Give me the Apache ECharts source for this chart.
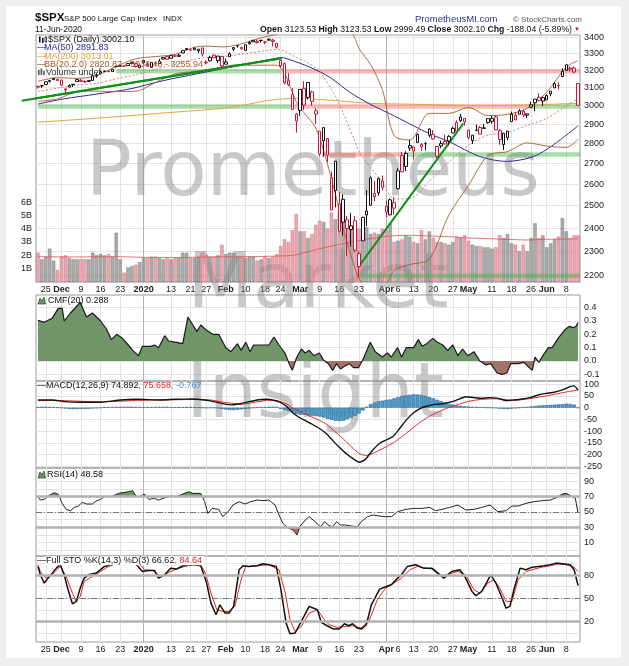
<!DOCTYPE html>
<html>
<head>
<meta charset="utf-8">
<title>$SPX daily</title>
<script src="https://cdn.jsdelivr.net/npm/echarts@6.0.0/dist/echarts.min.js"></script>
<style>
  html, body { margin: 0; padding: 0; background: #efefef; }
  #chart { width: 629px; height: 666px; }
</style>
</head>
<body>
<div id="chart"></div>
<script>
/* data - Starts */
var dates = [
  '2019-11-21','2019-11-22','2019-11-25','2019-11-26','2019-11-27','2019-11-29',
  '2019-12-02','2019-12-03','2019-12-04','2019-12-05','2019-12-06','2019-12-09','2019-12-10','2019-12-11','2019-12-12','2019-12-13',
  '2019-12-16','2019-12-17','2019-12-18','2019-12-19','2019-12-20','2019-12-23','2019-12-24','2019-12-26','2019-12-27','2019-12-30','2019-12-31',
  '2020-01-02','2020-01-03','2020-01-06','2020-01-07','2020-01-08','2020-01-09','2020-01-10','2020-01-13','2020-01-14','2020-01-15','2020-01-16',
  '2020-01-17','2020-01-21','2020-01-22','2020-01-23','2020-01-24','2020-01-27','2020-01-28','2020-01-29','2020-01-30','2020-01-31',
  '2020-02-03','2020-02-04','2020-02-05','2020-02-06','2020-02-07','2020-02-10','2020-02-11','2020-02-12','2020-02-13','2020-02-14',
  '2020-02-18','2020-02-19','2020-02-20','2020-02-21','2020-02-24','2020-02-25','2020-02-26','2020-02-27','2020-02-28',
  '2020-03-02','2020-03-03','2020-03-04','2020-03-05','2020-03-06','2020-03-09','2020-03-10','2020-03-11','2020-03-12','2020-03-13',
  '2020-03-16','2020-03-17','2020-03-18','2020-03-19','2020-03-20','2020-03-23','2020-03-24','2020-03-25','2020-03-26','2020-03-27','2020-03-30','2020-03-31',
  '2020-04-01','2020-04-02','2020-04-03','2020-04-06','2020-04-07','2020-04-08','2020-04-09','2020-04-13','2020-04-14','2020-04-15','2020-04-16','2020-04-17',
  '2020-04-20','2020-04-21','2020-04-22','2020-04-23','2020-04-24','2020-04-27','2020-04-28','2020-04-29','2020-04-30',
  '2020-05-01','2020-05-04','2020-05-05','2020-05-06','2020-05-07','2020-05-08','2020-05-11','2020-05-12','2020-05-13','2020-05-14','2020-05-15',
  '2020-05-18','2020-05-19','2020-05-20','2020-05-21','2020-05-22','2020-05-26','2020-05-27','2020-05-28','2020-05-29',
  '2020-06-01','2020-06-02','2020-06-03','2020-06-04','2020-06-05','2020-06-08','2020-06-09','2020-06-10','2020-06-11'
];
var opens = [
  3108.49,3111.41,3117.44,3134.85,3145.49,3147.18,3143.85,3087.41,3103.50,3119.21,
  3134.62,3141.86,3135.36,3135.75,3141.23,3166.65,3183.63,3195.40,3195.21,3192.32,
  3223.33,3226.05,3225.45,3227.20,3247.23,3240.09,3215.18,3244.67,3226.36,3217.55,
  3241.86,3238.59,3266.03,3280.79,3271.13,3285.35,3282.27,3302.97,3323.66,3321.03,
  3330.02,3315.77,3333.10,3247.16,3255.35,3289.46,3256.45,3282.33,3235.66,3280.61,
  3324.91,3344.92,3335.54,3318.28,3365.87,3370.50,3365.90,3378.08,3369.04,3380.39,
  3380.45,3360.50,3257.61,3238.94,3139.90,3062.54,2916.90,2974.28,3096.46,3045.75,
  3075.70,2954.20,2863.89,2813.48,2825.60,2630.86,2569.99,2508.59,2425.66,2436.50,
  2393.48,2431.94,2290.71,2344.44,2457.77,2501.29,2555.87,2558.98,2614.69,2498.08,
  2458.54,2514.92,2578.28,2738.65,2685.00,2776.99,2782.46,2805.10,2795.64,2799.34,
  2842.43,2845.62,2784.81,2787.89,2810.42,2812.64,2854.65,2909.96,2918.46,2930.91,
  2869.09,2815.01,2868.88,2883.14,2878.26,2908.83,2915.46,2939.50,2865.86,2794.54,
  2829.95,2913.86,2948.59,2953.63,2969.95,2948.05,3004.08,3015.65,3046.61,3025.17,
  3031.15,3064.78,3098.90,3111.56,3163.84,3199.92,3213.32,3213.42,3123.53
];
var highs = [
  3110.11,3112.87,3133.83,3142.69,3154.26,3150.30,3144.31,3094.97,3119.38,3119.45,
  3150.60,3148.87,3142.12,3143.98,3176.28,3182.68,3197.71,3198.22,3198.48,3205.48,
  3225.65,3227.78,3226.43,3240.08,3247.93,3240.92,3231.72,3258.14,3246.15,3246.84,
  3244.91,3267.07,3275.58,3282.99,3288.13,3294.25,3298.66,3317.11,3329.88,3329.79,
  3337.77,3326.88,3333.18,3258.85,3285.78,3293.47,3285.91,3282.33,3268.44,3306.92,
  3337.58,3347.96,3341.42,3352.26,3375.63,3381.47,3385.09,3380.69,3375.01,3393.52,
  3389.15,3360.76,3259.81,3246.99,3182.51,3097.07,2959.72,3090.96,3136.72,3130.97,
  3083.04,2985.93,2863.89,2882.59,2825.60,2660.95,2711.33,2562.98,2553.93,2453.57,
  2466.97,2453.01,2300.73,2449.71,2571.42,2637.01,2615.91,2631.80,2641.39,2522.75,
  2533.22,2538.18,2676.85,2756.89,2760.75,2818.57,2782.46,2851.85,2801.88,2806.51,
  2879.22,2868.98,2785.54,2815.10,2844.90,2842.71,2887.72,2921.15,2954.86,2930.91,
  2869.09,2844.24,2898.23,2891.11,2901.92,2932.16,2944.25,2945.82,2874.14,2852.80,
  2865.01,2968.09,2964.21,2980.29,2978.50,2956.76,3021.72,3036.25,3068.67,3049.17,
  3062.18,3081.07,3130.94,3128.91,3211.72,3233.13,3222.71,3223.27,3123.53
];
var lows = [
  3094.55,3099.26,3117.44,3131.00,3143.41,3139.34,3110.78,3070.33,3102.53,3103.76,
  3134.62,3135.46,3126.09,3133.21,3138.47,3156.51,3183.63,3191.03,3191.14,3192.32,
  3216.03,3222.30,3220.51,3227.20,3234.37,3216.57,3212.03,3235.53,3222.34,3214.64,
  3232.43,3236.67,3263.67,3260.86,3268.43,3277.19,3280.69,3302.82,3318.86,3316.61,
  3320.04,3301.87,3281.53,3234.50,3253.22,3271.89,3242.80,3214.68,3235.66,3280.61,
  3313.75,3334.39,3322.12,3317.77,3355.61,3369.72,3360.52,3366.15,3355.61,3378.83,
  3341.02,3328.45,3214.65,3118.77,3108.99,2977.39,2855.84,2945.19,2976.63,3034.38,
  2999.83,2901.54,2734.43,2734.00,2707.22,2478.86,2492.37,2380.94,2367.04,2280.52,
  2319.78,2295.56,2191.86,2344.44,2407.53,2500.72,2520.02,2545.28,2571.15,2447.49,
  2455.79,2459.96,2574.57,2657.67,2663.30,2762.36,2721.17,2805.10,2761.54,2764.32,
  2830.88,2820.43,2727.10,2775.95,2794.26,2791.76,2852.89,2860.71,2912.16,2892.47,
  2821.61,2797.85,2863.55,2847.65,2876.48,2902.88,2903.44,2869.59,2793.15,2766.64,
  2816.78,2913.86,2922.35,2953.63,2938.57,2933.59,2988.17,2969.75,3023.40,2998.61,
  3031.15,3051.64,3098.90,3090.41,3163.84,3196.00,3193.11,3181.49,2999.49
];
var closes = [
  3103.54,3110.29,3133.64,3140.52,3153.63,3140.98,3113.87,3093.20,3112.76,3117.43,
  3145.91,3135.96,3132.52,3141.63,3168.57,3168.80,3191.45,3192.52,3191.14,3205.37,
  3221.22,3224.01,3223.38,3239.91,3240.02,3221.29,3230.78,3257.85,3234.85,3246.28,
  3237.18,3253.05,3274.70,3265.35,3288.13,3283.15,3289.29,3316.81,3329.62,3320.79,
  3321.75,3325.54,3295.47,3243.63,3276.24,3273.40,3283.66,3225.52,3248.92,3297.59,
  3334.69,3345.78,3327.71,3352.09,3357.75,3379.45,3373.94,3380.16,3370.29,3386.15,
  3373.23,3337.75,3225.89,3128.21,3116.39,2978.76,2954.22,3090.23,3003.37,3130.12,
  3023.94,2972.37,2746.56,2882.23,2741.38,2480.64,2711.02,2386.13,2529.19,2398.10,
  2409.39,2304.92,2237.40,2447.33,2475.56,2630.07,2541.47,2626.65,2584.59,2470.50,
  2526.90,2488.65,2663.68,2659.41,2749.98,2789.82,2761.63,2846.06,2783.36,2799.55,
  2874.56,2823.16,2736.56,2799.31,2797.80,2836.74,2878.48,2863.39,2939.51,2912.43,
  2830.71,2842.74,2868.44,2848.42,2881.19,2929.80,2930.32,2870.12,2820.00,2852.50,
  2863.70,2953.91,2922.94,2971.61,2948.51,2955.45,2991.77,3036.13,3029.73,3044.31,
  3055.73,3080.82,3122.87,3112.35,3193.93,3232.39,3207.18,3190.14,3002.10
];
var prevClose = 3108.46;

// volume in billions
var volumes = [
  2.2,1.7,1.9,2.5,1.6,0.9,1.9,2.0,1.8,1.7,
  1.7,1.7,1.7,1.7,2.2,2.0,2.1,2.0,2.1,1.9,
  3.7,1.7,0.7,1.1,1.2,1.3,1.5,1.8,1.8,1.9,
  1.9,1.8,1.7,1.8,1.7,1.8,1.8,2.2,2.2,1.8,
  1.8,1.9,2.2,2.0,1.9,1.9,2.0,2.8,2.1,2.2,
  2.2,1.9,1.9,1.8,1.9,1.9,1.6,1.7,1.9,1.8,
  1.9,2.1,2.7,3.2,3.0,3.9,5.1,3.8,3.8,3.3,
  3.6,4.3,4.6,4.5,4.0,5.2,4.7,5.2,4.5,4.4,
  4.2,4.2,4.0,3.9,4.1,3.6,3.7,3.6,4.0,3.9,
  4.4,3.0,3.1,3.2,3.5,3.4,3.0,2.9,3.9,3.2,
  3.8,3.3,3.0,3.0,2.9,2.8,3.0,3.4,3.3,3.5,
  3.1,2.8,2.7,2.7,2.6,2.6,2.5,2.6,3.5,3.3,
  3.6,2.9,2.8,2.3,2.8,2.3,3.3,4.4,3.3,3.5,
  2.6,2.9,3.2,3.4,4.8,3.8,3.3,3.5,3.5
];
var volumeMA = [[0,1.9],[10,1.88],[20,1.9],[27,1.85],[35,1.84],[45,1.88],[55,1.91],[62,1.95],[65,2.0],[68,2.2],[72,2.5],[76,2.75],[80,3.0],[85,3.25],[90,3.45],[95,3.5],[100,3.45],[105,3.4],[110,3.3],[115,3.25],[120,3.2],[125,3.15],[130,3.2],[135,3.22],[138,3.24]];

var ma50 = [[0,3009],[6.5,3037],[15,3064],[23.5,3093],[32,3140],[40.6,3179],[49,3218],[57.6,3256],[60.5,3270],[62.3,3275],[64.4,3262],[69.5,3218],[74.6,3159],[79.7,3074],[84.8,3009],[89.9,2956],[95,2902],[100.2,2849],[105.3,2807],[112.9,2734],[119.8,2710],[126.6,2734],[131.7,2793],[138,2891.83]];
var ma200 = [[0,2911],[15,2932],[32,2960],[49,2990],[59.3,3030],[66.1,3040],[76.3,3027],[84.8,3013],[93.3,3009],[105.3,3003],[115,3001],[125,3004],[132,3008],[138,3013.01]];
var bbUpper = [[0,3136],[5,3157],[10,3153],[15,3169],[20,3223],[25,3268],[30,3281],[35,3294],[40,3337],[44,3344],[47,3339],[51,3352],[55,3381],[58,3401],[61,3417],[63,3444],[66,3529],[68,3550],[71,3546],[73,3557],[76,3550],[78,3522],[81,3391],[82,3331],[85,3233],[88,3089],[91,2841],[95,2818],[100,2958],[105,2958],[110,2990],[115,2946],[120,2953],[125,2985],[130,3075],[135,3219],[138,3255.94]];
var bbMiddle = [[0,3080],[5,3097],[10,3115],[15,3125],[20,3151],[25,3174],[30,3205],[35,3236],[40,3265],[44,3276],[47,3279],[51,3292],[55,3305],[58,3316],[61,3323],[63,3314],[66,3275],[68,3256],[71,3213],[73,3161],[76,3052],[78,2960],[81,2811],[82,2761],[85,2678],[88,2613],[91,2531],[95,2532],[100,2613],[105,2708],[110,2792],[115,2843],[120,2856],[125,2894],[130,2931],[135,3000],[138,3038.40]];
var bbLower = [[0,3024],[5,3037],[10,3077],[15,3081],[20,3078],[25,3080],[30,3129],[35,3178],[40,3193],[44,3207],[47,3219],[51,3232],[55,3229],[58,3230],[61,3229],[63,3184],[66,3021],[68,2961],[71,2880],[73,2764],[76,2554],[78,2398],[81,2230],[82,2191],[85,2122],[88,2137],[91,2221],[95,2245],[100,2268],[105,2458],[110,2594],[115,2739],[120,2759],[125,2803],[130,2787],[135,2780],[138,2820.87]];

// support / resistance zones: [from day, to day, price]
var greenZones = [[20,62.3,3195],[0,65,2996],[125.5,138.5,2996],[94,138.5,2744],[81.8,138.5,2200]];
var redZones = [[62.3,138.5,3195],[65.5,125.5,2996],[72.5,94,2744]];
var trendLines = [[[-4.15,3027],[62.3,3271]], [[81.85,2235],[108.7,2905]]];

var cmf = [[0,0.305],[1.6,0.29],[3.6,0.32],[5.2,0.395],[6.2,0.395],[6.7,0.30],[8.3,0.36],[10.8,0.44],[12.4,0.33],[13.9,0.36],[16,0.3],[17.5,0.24],[18.8,0.16],[20.1,0.2],[21.6,0.17],[23.1,0.12],[24.2,0.08],[25.7,0.04],[26.7,0.11],[28.8,0.11],[29.8,0.12],[30.8,0.1],[32.4,0.19],[33.4,0.15],[35.4,0.14],[37,0.13],[38.3,0.33],[39.6,0.27],[40.6,0.22],[41.6,0.27],[43.1,0.23],[44.7,0.2],[46.2,0.2],[48,0.1],[49.3,0.07],[51,0.13],[51.9,0.08],[53.1,0.14],[54.2,0.07],[55.1,0.12],[57.5,0.12],[59,0.12],[60.3,0.18],[61.6,0.12],[63.1,0.06],[64.2,-0.02],[65,-0.07],[66,0.02],[67.3,0.09],[68.3,0.06],[69.3,0.08],[70.5,0.04],[71.9,0.06],[72.9,0.01],[74.2,-0.02],[75.3,-0.07],[76.3,-0.02],[77.3,-0.06],[78.3,-0.04],[79.6,-0.02],[80.6,-0.05],[81.9,-0.05],[83.2,0.02],[84.9,0.14],[86.2,0.07],[88,0.03],[89.3,0.06],[90.3,0.03],[91.9,0.1],[92.9,0.03],[94.1,0.1],[96,0.1],[97.2,0.16],[98.2,0.11],[99.3,0.13],[100.9,0.17],[102.1,0.14],[103.4,0.12],[104.7,0.08],[106,0.12],[107.3,0.04],[108.5,0.09],[109.8,0.04],[111.4,0.07],[112.9,0.0],[114.5,-0.03],[115.7,-0.02],[117.3,-0.09],[118.6,-0.1],[119.8,-0.09],[120.8,-0.02],[122.7,-0.02],[124.2,-0.01],[125.5,-0.05],[126.3,-0.07],[127,0.03],[128,-0.01],[129,0.04],[130.4,0.1],[131.4,0.1],[132.9,0.17],[134.5,0.23],[135.8,0.26],[136.8,0.25],[137.5,0.26],[138,0.288]];

var macdLine = [[0,33],[3.6,33],[6.7,26],[10.8,23],[16,23],[21.1,33],[25.2,36],[31.3,33],[35.4,36],[39.6,37],[43.7,30],[47.8,15],[49.5,12],[52,18],[56,33],[58.4,36],[60,33],[61.8,24],[63.5,6],[65.2,-23],[67,-44],[68.7,-58],[70.3,-73],[72,-90],[73.8,-112],[75.5,-144],[77.2,-172],[78.9,-198],[80.6,-219],[82.1,-233],[83.6,-222],[85.3,-186],[87.4,-151],[89.1,-137],[90.8,-122],[92.5,-87],[94.2,-51],[95.9,-23],[97.6,-4],[99.3,6],[101,13],[102.7,16],[104.4,20],[106.1,27],[107.8,38],[109.3,47],[111.4,43],[113.4,40],[115.5,43],[117.5,40],[119.6,30],[121.6,33],[123.7,37],[125.7,43],[127.8,54],[129.8,61],[131.9,66],[134,76],[136,90],[137,93],[138,74.89]];
var macdSignal = [[0,30],[5,31],[10,28],[15,25],[20,27],[25,31],[30,33],[35,34],[40,35],[44,33],[48,22],[52,15],[56,25],[59,32],[61.8,27],[63.5,16],[65.2,-3],[67,-16],[68.7,-30],[70.3,-42],[72,-55],[73.8,-71],[75.5,-97],[77.2,-121],[78.9,-148],[80.6,-175],[82.3,-198],[84,-204],[85.7,-194],[87.4,-180],[89.1,-166],[90.8,-150],[92.5,-130],[94.2,-108],[95.9,-85],[97.6,-63],[99.3,-44],[101,-28],[102.7,-15],[104.4,-3],[106.1,7],[107.8,16],[110,27],[113,35],[117,38],[120,34],[122,32],[124,35],[126,40],[128,45],[130,51],[132,57],[134,64],[136,70],[138,75.66]];
var macdHist = [
  3,4,4,3,2,1,-1,
  -3,-5,-6,-6,-5,-5,-4,-3,-2,-1,
  1,2,2,3,3,3,4,4,3,3,2,2,2,3,3,3,3,2,2,2,2,3,3,2,1,0,-1,-1,-1,
  -2,-5,-8,-10,-10,-9,-7,-5,-3,-1,
  1,2,3,4,4,3,
  -5,-10,-14,-20,-27,
  -30,-30,-32,-34,-36,-38,
  -42,-48,-52,-56,-57,-56,
  -50,-44,-35,-25,-12,
  4,15,22,27,30,33,35,40,45,50,52,55,57,56,54,
  50,45,40,34,28,22,17,13,10,8,6,5,4,3,
  2,1,0,-1,-2,-4,-5,-6,-4,-2,0,2,3,
  5,7,9,10,11,12,13,14,15,17,16,13,-0.77
];

var rsi = [[0,70],[0.6,65.6],[1.6,66.5],[2.6,71],[4.2,75.2],[5.2,73],[6.2,61.3],[7.2,53.4],[8.3,51.7],[9.3,56],[10.3,57.8],[11.3,62.6],[12.4,60.4],[13.9,60.4],[14.9,64.3],[16,66.5],[17,70],[19,70.5],[20.6,74.4],[23.1,76.5],[24.2,77.8],[25.2,70],[26.2,70.5],[27.2,73.5],[28.3,66.5],[29.8,67.8],[30.8,65.6],[32.4,68.7],[33.9,70.9],[35.4,70],[37,73.5],[38.5,76.5],[39.6,74.4],[41.6,74.4],[42.6,63.5],[43.4,48.2],[44.5,54.7],[46.2,53.4],[47.2,43.9],[48.6,50.4],[49.8,59.1],[51.4,63.5],[52.9,60.4],[54.4,63.5],[56,65.6],[57.5,64.8],[59,65.6],[60.6,59.1],[61.6,46],[62.6,35.1],[63.7,29.9],[65.2,26.4],[66.2,19.9],[67,31.7],[68.3,39.5],[69.3,43.9],[70.8,37.3],[72.2,30.5],[73.2,37.3],[74.2,33],[75.3,30.2],[76.3,37.3],[77.3,33],[78.5,33],[80.1,31.7],[81.6,30.5],[82.6,37.3],[84.2,43.9],[85.7,46],[87.3,44.7],[88.8,43.9],[90.3,43.9],[91.9,50.4],[94,53.4],[96,54.7],[98,54.7],[100.1,56],[101.6,51.7],[103.2,53.4],[105.2,56],[107.3,59.1],[109.3,52.6],[111.4,53.4],[113.4,56],[115.5,59.1],[117.5,50.4],[119.6,51.7],[121.1,57.8],[122.7,57.8],[124.7,61.3],[126.8,63.5],[128.8,64.8],[130.9,65.6],[132.4,68.7],[134,73.5],[135,74.4],[136.5,70],[137.3,68],[138,48.58]];

var stoK = [[0,91.2],[0.6,80.4],[1.6,69.7],[2.6,76.1],[4.7,89],[5.7,93.4],[6.7,80.4],[7.7,61],[8.8,42.9],[9.8,46],[10.8,63.2],[11.8,76.1],[12.9,80.4],[14.9,82.6],[17,91.2],[19,93.4],[21.1,99],[23.1,100],[25.2,93.4],[26.7,84.7],[28.3,86],[29.8,86],[30.8,76.1],[32.4,80.4],[33.9,89],[35.4,87.8],[37,92.1],[38.5,93.4],[40.1,93.4],[41.6,92.1],[43.1,69.7],[44.2,43.8],[45.5,28.7],[46.5,41.6],[47.8,30.9],[48.8,30.9],[50,39.5],[51.4,86.9],[52.4,92.1],[53.9,91.2],[56,92.1],[57.5,94.7],[59,93.4],[60.9,91.2],[62.1,61],[63.4,17.9],[64.4,4.1],[65.7,5],[67.3,20.1],[69.3,39.5],[71.4,35.2],[72.4,18.8],[73.9,14.5],[75.5,10.2],[77,10.2],[78.3,17.1],[79.4,14.5],[80.4,17.1],[81.6,11.5],[82.6,10.2],[83.9,15.8],[85.2,41.6],[87.3,61.9],[89,65.3],[90.3,67.5],[91.9,76.1],[92.9,80.4],[94.4,91.2],[96.5,93.4],[98.5,89],[100.6,89],[102.1,82.6],[103.7,76.1],[105.7,84.7],[107.8,86.9],[109.3,76.1],[110.9,58.9],[111.9,53.3],[113.4,58.9],[115.7,80.4],[117,69.7],[118.6,50.3],[119.6,37.3],[120.6,39.5],[121.6,61],[123.2,89],[124.7,86.9],[126.3,90.3],[127.8,91.2],[129.3,92.1],[130.9,93.4],[132.4,95.5],[134,94.7],[136,93.4],[137,86.9],[138,66.62]];
var stoD = [[0,93.4],[0.6,84.7],[2.1,76.1],[3.6,80.4],[5.7,91.2],[7.2,78.3],[8.8,56.7],[9.8,46],[10.8,52.4],[11.8,71.8],[13.9,78.3],[16,84.7],[18,91.2],[20.1,95.5],[21.1,99],[24.2,99],[25.7,95.5],[27.2,86.9],[29.3,86],[31.3,78.3],[33.4,83.4],[35.4,87.8],[37.5,91.2],[39.6,92.9],[41.6,92.9],[42.8,82.6],[44.2,56.7],[45.7,35.2],[47.2,33],[48.8,33],[50.3,39.5],[51.9,74],[53.1,91.2],[56,92.1],[59,93.4],[61.6,86.9],[63.2,56.7],[64.4,22.2],[65.7,7.2],[67.3,13.6],[69.3,30.9],[71.4,35.2],[72.9,24.4],[74.4,15.8],[76.5,12.3],[78.5,13.6],[80.6,14.5],[82.6,11.5],[84.7,22.2],[86.7,48.1],[88.8,63.2],[90.9,69.7],[92.9,76.1],[95,86.9],[97,91.2],[99.1,89],[101.1,87.8],[103.2,79.1],[105.2,81.7],[107.3,84.7],[109.3,80.4],[111.4,61],[112.9,56.7],[115,69.7],[116.5,74],[118,63.2],[119.6,46],[121.1,46],[122.7,74],[124.7,84.7],[126.8,87.8],[128.8,90.3],[130.9,92.1],[132.9,94.2],[135,93.4],[137,90.3],[138,84.64]];

// axis ticks
var tickIdx  = [2,6,11,16,21,27,34,39,43,48,53,58,62,67,72,77,82,89,92,96,101,106,110,116,121,126,130,135];
var tickText = ['25','Dec','9','16','23','2020','13','21','27','Feb','10','18','24','Mar','9','16','23','Apr','6','13','20','27','May','11','18','26','Jun','8'];
var boldTicks = ['Dec','2020','Feb','Mar','Apr','May','Jun'];
var darkTicks = ['2020','Apr'];
var priceTicks = [2200,2300,2400,2500,2600,2700,2800,2900,3000,3100,3200,3300,3400];
var volTicks = [1,2,3,4,5,6];
var cmfTicks = [-0.1,0,0.1,0.2,0.3,0.4];
var macdTicks = [-250,-200,-150,-100,-50,0,50,100];
var rsiTicks = [10,30,50,70,90];
var rsiGrid = [0,10,20,30,40,50,60,70,80,90,100];
var stoTicks = [20,50,80];
var stoGrid = [5,20,35,50,65,80,95];
/* data - Ends */

var chart = echarts.init(document.getElementById('chart'));

var RED = '#d3123c', BLACK = '#111', FONT = '"Liberation Sans", Arial, sans-serif';
var GREEN_FILL = '#6f9569', BROWN_FILL = '#a5716b', CLEAR = 'rgba(255,255,255,0)';
var TREND = '#13901a';
var LAST = closes.length - 1;

/* candles + volume - Starts */
var candleData = [], volData = [];
for (var i = 0; i < closes.length; i++) {
  var prev = i ? closes[i - 1] : prevClose;
  var col = closes[i] < prev ? RED : BLACK;
  candleData.push({
    value: [opens[i], closes[i], lows[i], highs[i]],
    itemStyle: {color: '#fff', color0: col, borderColor: col, borderColor0: col, borderWidth: 1}
  });
  volData.push({
    value: volumes[i],
    itemStyle: closes[i] < prev
      ? {color: 'rgba(230,145,158,0.78)', borderColor: 'rgba(200,90,110,0.8)', borderWidth: 0.5}
      : {color: 'rgba(150,150,150,0.78)', borderColor: 'rgba(100,100,100,0.8)', borderWidth: 0.5}
  });
}
/* candles + volume - Ends */

function tickLabel(v) {
  var k = tickIdx.indexOf(Math.round(v));
  if (k < 0) return '';
  var t = tickText[k];
  return boldTicks.indexOf(t) >= 0 ? '{b|' + t + '}' : t;
}
var vLineColors = tickText.map(function (t) { return darkTicks.indexOf(t) >= 0 ? '#b4b4b4' : '#e2e2e2'; });

var grids = [
  {left: 36, right: 49, top: 35, height: 247},
  {left: 36, right: 49, top: 295, height: 86},
  {left: 36, right: 49, top: 381, height: 87},
  {left: 36, right: 49, top: 468, height: 88},
  {left: 36, right: 49, top: 556, height: 86}
];
grids.forEach(function (g) { g.show = true; g.borderColor = '#9a9a9a'; g.borderWidth = 1; g.backgroundColor = 'transparent'; });

var xAxes = [];
grids.forEach(function (g, k) {
  xAxes.push({type: 'category', gridIndex: k, data: dates, show: false});
  xAxes.push({
    type: 'value', gridIndex: k, min: -0.5, max: LAST + 0.5, position: 'bottom',
    axisLine: {show: false},
    axisTick: {show: false, customValues: tickIdx},
    axisLabel: {
      show: k === 0 || k === 4, customValues: tickIdx, formatter: tickLabel,
      fontSize: 9, color: '#222', margin: 3, fontFamily: FONT,
      rich: {b: {fontWeight: 'bold', fontSize: 9, color: '#222', fontFamily: FONT}}
    },
    splitLine: {show: true, lineStyle: {color: vLineColors, width: 1}}
  });
});

function rightAxis(g, type, min, max, labels, gridVals, fmt) {
  var a = {
    type: type, gridIndex: g, position: 'right', min: min, max: max,
    axisLine: {show: false},
    axisTick: {show: false, customValues: gridVals},
    axisLabel: {customValues: labels, formatter: fmt, fontSize: 9, color: '#222', margin: 4, fontFamily: FONT},
    splitLine: {show: true, lineStyle: {color: '#e2e2e2', width: 1}}
  };
  if (type === 'log') a.logBase = 10;
  return a;
}

var yAxes = [
  rightAxis(0, 'log', 2175, 3412.6, priceTicks, priceTicks, function (v) { return String(Math.round(v)); }),
  {type: 'value', gridIndex: 0, position: 'left', min: 0, max: 18.53,
   axisLine: {show: false}, axisTick: {show: false},
   axisLabel: {customValues: volTicks, formatter: function (v) { return v + 'B'; }, fontSize: 9, color: '#222', margin: 4, fontFamily: FONT},
   splitLine: {show: false}},
  rightAxis(1, 'value', -0.15, 0.495, cmfTicks, cmfTicks, function (v) { return v.toFixed(1); }),
  rightAxis(2, 'value', -257.7, 114, macdTicks, macdTicks, function (v) { return String(v); }),
  rightAxis(3, 'value', -7.5, 107.5, rsiTicks, rsiGrid, function (v) { return String(v); }),
  rightAxis(4, 'value', -6.5, 104.7, stoTicks, stoGrid, function (v) { return String(v); })
];

function line(xi, yi, data, color, width, extra) {
  var s = {type: 'line', xAxisIndex: xi, yAxisIndex: yi, data: data, symbol: 'none', silent: true,
           lineStyle: {color: color, width: width}, itemStyle: {color: color}, z: 3};
  for (var k in extra) s[k] = extra[k];
  return s;
}

var series = [];
/* price panel - Starts */
series.push({type: 'bar', xAxisIndex: 0, yAxisIndex: 1, data: volData, barCategoryGap: '14%', silent: true, z: 1});
series.push(line(1, 1, volumeMA, 'rgba(228,80,80,0.8)', 1, {smooth: 0.3, z: 2}));
greenZones.forEach(function (zn) {
  series.push(line(1, 0, [[zn[0], zn[2]], [zn[1], zn[2]]], 'rgba(70,175,70,0.45)', 4.5, {z: 2}));
});
redZones.forEach(function (zn) {
  series.push(line(1, 0, [[zn[0], zn[2]], [zn[1], zn[2]]], 'rgba(240,90,90,0.42)', 4.5, {z: 2}));
});
series.push(line(1, 0, ma200, '#e8a334', 1, {smooth: 0.3}));
series.push(line(1, 0, ma50, '#2a2a9e', 1, {smooth: 0.3}));
series.push(line(1, 0, bbUpper, '#a65a32', 0.9, {smooth: 0.3}));
series.push(line(1, 0, bbLower, '#a65a32', 0.9, {smooth: 0.3}));
series.push(line(1, 0, bbMiddle, '#c07a55', 0.9, {smooth: 0.3, lineStyle: {color: '#c07a55', width: 0.9, type: [2, 2]}}));
var trendSeries = [];
trendLines.forEach(function (t) {
  trendSeries.push(series.length);
  series.push(line(1, 0, t, TREND, 2, {clip: false, z: 4}));
});
series.push({type: 'candlestick', xAxisIndex: 0, yAxisIndex: 0, data: candleData, barWidth: 3, silent: true, z: 5});
/* price panel - Ends */

/* CMF - Starts */
var iCmfArea = series.length;
series.push(line(3, 2, cmf, '#000', 0, {areaStyle: {opacity: 1}, lineStyle: {width: 0, opacity: 0}, z: 2}));
series.push(line(3, 2, cmf, '#1a1a1a', 1.2));
/* CMF - Ends */

/* MACD - Starts */
series.push({type: 'bar', xAxisIndex: 4, yAxisIndex: 3, data: macdHist, barCategoryGap: '8%', silent: true, z: 2,
             itemStyle: {color: '#4a9dcf', borderColor: '#245a7c', borderWidth: 0.5}});
series.push(line(5, 3, macdSignal, '#e8251f', 1, {smooth: 0.2}));
series.push(line(5, 3, macdLine, '#111', 1.4, {smooth: 0.2}));
/* MACD - Ends */

/* RSI - Starts */
var iRsiUp = series.length;
series.push(line(7, 4, rsi, '#000', 0, {areaStyle: {opacity: 1, origin: 70}, lineStyle: {width: 0, opacity: 0}, z: 2}));
var iRsiLow = series.length;
series.push(line(7, 4, rsi, '#000', 0, {areaStyle: {opacity: 1, origin: 30}, lineStyle: {width: 0, opacity: 0}, z: 2}));
series.push(line(7, 4, rsi, '#222', 1, {
  markLine: {silent: true, symbol: 'none', label: {show: false}, animation: false, data: [
    {yAxis: 70, lineStyle: {color: '#b0b0b0', width: 2.5, type: 'solid'}},
    {yAxis: 30, lineStyle: {color: '#b0b0b0', width: 2.5, type: 'solid'}},
    {yAxis: 50, lineStyle: {color: '#777', width: 1, type: [6, 2, 1, 2]}}
  ]}
}));
/* RSI - Ends */

/* Full STO - Starts */
series.push(line(9, 5, stoD, '#e8251f', 1, {
  markLine: {silent: true, symbol: 'none', label: {show: false}, animation: false, data: [
    {yAxis: 80, lineStyle: {color: '#b0b0b0', width: 2.5, type: 'solid'}},
    {yAxis: 20, lineStyle: {color: '#b0b0b0', width: 2.5, type: 'solid'}},
    {yAxis: 50, lineStyle: {color: '#777', width: 1, type: [6, 2, 1, 2]}}
  ]}
}));
series.push(line(9, 5, stoK, '#111', 1.5));
/* Full STO - Ends */

/* texts - Starts */
function txt(x, y, text, font, fill, extra) {
  var st = {text: text, font: font, fill: fill, align: 'left', verticalAlign: 'middle'};
  for (var k in extra) st[k] = extra[k];
  return {type: 'text', x: x, y: y, z: 20, silent: true, style: st};
}
var F9 = '9px ' + FONT;
var WM = 'rgba(135,135,135,0.45)';
var graphics = [
  {type: 'rect', shape: {x: 6, y: 6, width: 615, height: 652}, style: {fill: '#fff'}, z: -100, silent: true},
  // watermark
  {type: 'text', x: 313, y: 175, z: 1, silent: true, style: {text: 'Prometheus', font: '76px "DejaVu Sans"', fill: WM, align: 'center', verticalAlign: 'middle'}},
  {type: 'text', x: 318, y: 287, z: 1, silent: true, style: {text: 'Market', font: '76px "DejaVu Sans"', fill: WM, align: 'center', verticalAlign: 'middle'}},
  {type: 'text', x: 315, y: 397, z: 1, silent: true, style: {text: 'Insight', font: '76px "DejaVu Sans"', fill: WM, align: 'center', verticalAlign: 'middle'}},
  // header
  txt(35, 17.5, '$SPX', 'bold 11.5px ' + FONT, '#111'),
  txt(64, 18.5, 'S&P 500 Large Cap Index', '8px ' + FONT, '#111'),
  txt(163, 18.5, 'INDX', '8px ' + FONT, '#111'),
  txt(35, 29.3, '11-Jun-2020', '8.5px ' + FONT, '#111'),
  txt(415, 19.3, 'PrometheusMI.com', '9.5px ' + FONT, '#26359a'),
  txt(513, 19.3, '\u00a9 StockCharts.com', '8px ' + FONT, '#555'),
  txt(572, 29.3, '{b|Open} 3123.53 {b|High} 3123.53 {b|Low} 2999.49 {b|Close} 3002.10 {b|Chg} -188.04 (-5.89%)', '8.7px ' + FONT, '#111',
      {align: 'right', rich: {b: {font: 'bold 8.7px ' + FONT, fill: '#111'}}}),
  txt(574, 29.8, '\u25bc', '6px ' + FONT, RED),
  // price legend
  {type: 'rect', shape: {x: 39, y: 36.5, width: 1.6, height: 6}, style: {fill: '#111'}, z: 20, silent: true},
  {type: 'rect', shape: {x: 42, y: 38, width: 1.6, height: 5}, style: {fill: '#111'}, z: 20, silent: true},
  {type: 'rect', shape: {x: 45, y: 37, width: 1.6, height: 5}, style: {fill: 'none', stroke: '#111', lineWidth: 0.8}, z: 20, silent: true},
  txt(48, 40, '$SPX (Daily) 3002.10', F9, '#111'),
  txt(37, 48, '\u2014', F9, '#2a2a9e'),
  txt(44, 48, 'MA(50) 2891.83', F9, '#2a2a9e'),
  txt(37, 56.3, '\u2014', F9, '#e8a334'),
  txt(44, 56.3, 'MA(200) 3013.01', F9, '#e8a334'),
  txt(37, 64.3, '\u2014', F9, '#a65a32'),
  txt(44, 64.3, 'BB(20,2.0) 2820.87 - 3038.40 - 3255.94', F9, '#a65a32'),
  {type: 'rect', shape: {x: 38, y: 70, width: 1.6, height: 5}, style: {fill: '#555'}, z: 20, silent: true},
  {type: 'rect', shape: {x: 40.6, y: 68.5, width: 1.6, height: 6.5}, style: {fill: '#555'}, z: 20, silent: true},
  {type: 'rect', shape: {x: 43.2, y: 71, width: 1.6, height: 4}, style: {fill: '#555'}, z: 20, silent: true},
  txt(46, 72.3, 'Volume undef', F9, '#333'),
  // CMF legend
  {type: 'polygon', shape: {points: [[38, 304], [40, 298], [42, 301], [44, 297], [45.5, 304]]}, style: {fill: GREEN_FILL, stroke: '#222', lineWidth: 0.6}, z: 20, silent: true},
  txt(48, 300.5, 'CMF(20) 0.288', F9, '#111'),
  // MACD legend
  txt(37, 386, '\u2014', F9, '#111'),
  txt(46, 386, '{k|MACD(12,26,9) 74.892}{r|, 75.658}{c|, -0.767}', F9, '#111',
      {rich: {k: {font: F9, fill: '#111'}, r: {font: F9, fill: '#e8251f'}, c: {font: F9, fill: '#3c98d0'}}}),
  // RSI legend
  {type: 'polygon', shape: {points: [[38, 478], [40, 472], [42, 475], [44, 471], [45.5, 478]]}, style: {fill: GREEN_FILL, stroke: '#222', lineWidth: 0.6}, z: 20, silent: true},
  txt(47, 474.3, 'RSI(14) 48.58', F9, '#111'),
  // STO legend
  txt(37, 560.8, '\u2014', F9, '#111'),
  txt(46, 560.8, '{k|Full STO %K(14,3) %D(3) 66.62}{r|, 84.64}', F9, '#111',
      {backgroundColor: '#fff', padding: [0, 2, 0, 0], rich: {k: {font: F9, fill: '#111'}, r: {font: F9, fill: '#e8251f'}}})
];
/* texts - Ends */

var option = {
  animation: false,
  backgroundColor: '#efefef',
  textStyle: {fontFamily: FONT},
  grid: grids,
  xAxis: xAxes,
  yAxis: yAxes,
  // finite pieces so the area gets real colour stops
  visualMap: [
    {type: 'piecewise', show: false, seriesIndex: iCmfArea, dimension: 1,
     pieces: [{min: -1, max: 0, color: BROWN_FILL}, {min: 0, max: 1, color: GREEN_FILL}]},
    {type: 'piecewise', show: false, seriesIndex: iRsiUp, dimension: 1,
     pieces: [{min: -50, max: 70, color: CLEAR}, {min: 70, max: 150, color: GREEN_FILL}]},
    {type: 'piecewise', show: false, seriesIndex: iRsiLow, dimension: 1,
     pieces: [{min: -50, max: 30, color: BROWN_FILL}, {min: 30, max: 150, color: CLEAR}]}
  ],
  graphic: graphics,
  series: series
};
chart.setOption(option);

/* long trend line runs past the left frame: place it with the series' own scale */
var a = chart.convertToPixel({seriesIndex: trendSeries[0]}, trendLines[0][0]);
var b = chart.convertToPixel({seriesIndex: trendSeries[0]}, trendLines[0][1]);
if (a && b) {
  graphics.push({type: 'line', z: 4, silent: true, shape: {x1: a[0], y1: a[1], x2: b[0], y2: b[1]},
                 style: {stroke: TREND, lineWidth: 2}});
  chart.setOption({graphic: graphics});
}
</script>
</body>
</html>
